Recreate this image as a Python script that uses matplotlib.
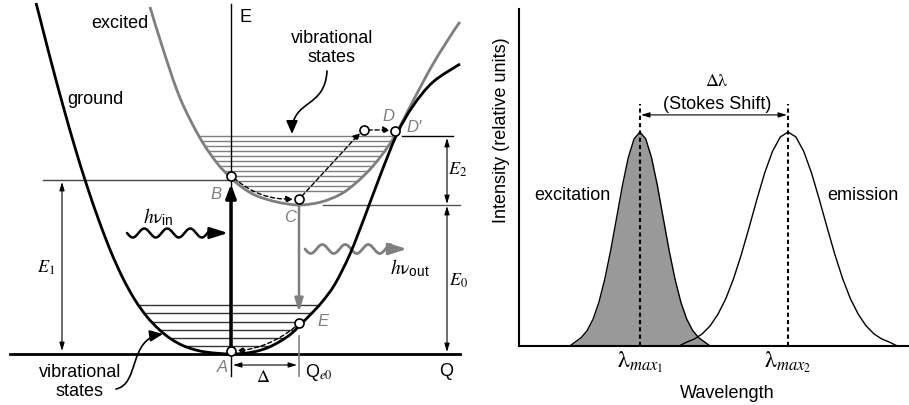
import numpy as np
import matplotlib
matplotlib.use('Agg')
import matplotlib.pyplot as plt
from matplotlib.patches import FancyArrowPatch, PathPatch
from matplotlib.path import Path

plt.rcParams['font.family'] = ['Liberation Sans', 'DejaVu Sans']
plt.rcParams['mathtext.fontset'] = 'stix'

GRAY = '#7f7f7f'

# ---------- left panel: configuration coordinate diagram (Q, E), origin at A ----------
ground_q = [-195, -192, -180, -168, -156, -144, -132, -120, -108, -96, -84, -72, -60, -48, -36, -24, -12, 0,
            12, 24, 36, 48, 60, 68, 80, 91, 104, 119, 134, 149, 166, 182, 202, 229]
ground_e = [351, 339.6, 292.8, 248.4, 206.4, 168, 133.2, 102, 75.6, 54, 37.2, 24.6, 15, 8.4, 4.2, 1.8, 0.6, 0,
            0.6, 2.4, 6, 12, 20, 28, 40, 52, 70, 100, 138, 178, 220, 248, 272, 290]

excited_q = [-81, -68, -51, -31, -14, 0, 12, 26, 46, 68, 90, 110, 126, 142, 156, 166, 182, 202, 222, 229]
excited_e = [347, 305, 256, 216, 191, 176, 166, 158, 152, 149, 152, 160, 172, 188, 206, 222, 253, 290, 322, 332]

ground_levels = [49, 41, 32, 24, 16, 8]
excited_levels = [218, 213, 208, 203, 198, 193, 188, 183, 178, 173, 168, 163]

# points A..E and D'
pts = {'A': (0, 3), 'B': (0, 178), 'C': (68, 155), 'D': (133, 224), "D'": (164, 223), 'E': (68, 31)}

E1_level = 174      # level of B
E_min_exc = 149     # bottom of excited state
E_D = 218           # level of D'
delta = 68          # Q_e0


def smooth_path(xs, ys):
    # Catmull-Rom through the points, drawn as cubic Bezier segments
    p = np.column_stack([xs, ys]).astype(float)
    p = np.vstack([p[0], p, p[-1]])
    verts = [p[1]]
    codes = [Path.MOVETO]
    for i in range(1, len(p) - 2):
        c1 = p[i] + (p[i + 1] - p[i - 1]) / 6
        c2 = p[i + 1] - (p[i + 2] - p[i]) / 6
        verts += [c1, c2, p[i + 1]]
        codes += [Path.CURVE4] * 3
    return Path(verts, codes)


def branch_x(qs, es, level, side):
    qs = np.asarray(qs, float)
    es = np.asarray(es, float)
    i0 = int(np.argmin(es))
    if side == 'left':
        return np.interp(level, es[:i0 + 1][::-1], qs[:i0 + 1][::-1])
    return np.interp(level, es[i0:], qs[i0:])


def wave(ax, q0, q1, e0, tip, color, lw):
    q = np.linspace(q0, q1, 300)
    ax.plot(q, e0 - 4.5 * np.sin(2 * np.pi * (q - q0) / 23), color=color, lw=lw, solid_capstyle='round')
    ax.annotate('', xy=(tip, e0), xytext=(q1 - 2, e0),
                arrowprops=dict(arrowstyle='-|>,head_length=1.1,head_width=0.35', color=color, lw=lw,
                                shrinkA=0, shrinkB=0))


def darrow(ax, p0, p1, lw=0.8, color='k'):
    ax.annotate('', xy=p1, xytext=p0,
                arrowprops=dict(arrowstyle='<|-|>,head_length=0.5,head_width=0.15', color=color, lw=lw,
                                shrinkA=0, shrinkB=0))


fig = plt.figure(figsize=(9.09, 4.06), dpi=100)
axL = fig.add_axes([0, 0, 1, 1])
axL.set_xlim(-231, 678)
axL.set_ylim(-51, 355)
axL.axis('off')

# vibrational levels
for lv in excited_levels:
    axL.plot([branch_x(excited_q, excited_e, lv, 'left'), branch_x(excited_q, excited_e, lv, 'right')],
             [lv, lv], color=GRAY, lw=1)
for lv in ground_levels:
    axL.plot([branch_x(ground_q, ground_e, lv, 'left'), branch_x(ground_q, ground_e, lv, 'right')],
             [lv, lv], color='#333333', lw=1)

# potential curves
axL.add_patch(PathPatch(smooth_path(excited_q, excited_e), fill=False, edgecolor=GRAY, lw=2, zorder=4))
axL.add_patch(PathPatch(smooth_path(ground_q, ground_e), fill=False, edgecolor='k', lw=2, zorder=4))

# axes of the diagram
axL.plot([-221, 229], [0, 0], color='k', lw=2)
axL.plot([0, 0], [350, -22], color='k', lw=1)
axL.plot([delta, delta], [18, -22], color=GRAY, lw=1.2)

# reference levels
axL.plot([-188, -1], [E1_level, E1_level], color='#444444', lw=1)
axL.plot([92, 229], [E_min_exc, E_min_exc], color='#555555', lw=1)
axL.plot([171, 222], [E_D, E_D], color='k', lw=1)

darrow(axL, (-169, 3), (-169, E1_level - 2))
darrow(axL, (216, E_D - 2), (216, E_min_exc + 1))
darrow(axL, (216, E_min_exc - 1), (216, 2))
darrow(axL, (2, -11), (66, -11))

# transitions
axL.annotate('', xy=(0, 170), xytext=(0, 3),
             arrowprops=dict(arrowstyle='-|>,head_length=0.8,head_width=0.3', color='k', lw=2.5,
                             shrinkA=0, shrinkB=0))
axL.annotate('', xy=(68, 42), xytext=(68, 151),
             arrowprops=dict(arrowstyle='-|>,head_length=0.8,head_width=0.25', color=GRAY, lw=1.8,
                             shrinkA=0, shrinkB=0))

dash = (0, (3, 2))
for p0, p1, rad in [((3, 176), (62, 155), 0.2), ((71, 158), (129, 221), 0.0),
                    ((137, 224), (159, 224), 0.0), ((64, 27), (6, 3), -0.15)]:
    axL.add_patch(FancyArrowPatch(p0, p1, arrowstyle='-|>,head_length=4,head_width=2',
                                  connectionstyle='arc3,rad=%s' % rad, linestyle=dash, lw=1,
                                  color='k', shrinkA=0, shrinkB=0, zorder=6))

wave(axL, -104, -20, 121, -3, 'k', 1.8)
wave(axL, 74, 160, 105, 176, GRAY, 2)

for name, (q, e) in pts.items():
    axL.plot(q, e, 'o', ms=6.5, mfc='white', mec='k', mew=1.2, zorder=10)

# curved pointers for "vibrational states"
for verts in [[(96, 283), (94, 245), (61, 255), (61, 220)],
              [(-115, -35), (-91, -30), (-103, 15), (-68, 20)]]:
    axL.add_patch(FancyArrowPatch(path=Path(verts, [Path.MOVETO, Path.CURVE4, Path.CURVE4, Path.CURVE4]),
                                  arrowstyle='-|>,head_length=8,head_width=3.5', color='k', lw=1.2,
                                  zorder=6))

# text
fs = 13
axL.text(-111, 331, 'excited', fontsize=fs, ha='center', va='center')
axL.text(-136, 255, 'ground', fontsize=fs, ha='center', va='center')
axL.text(9, 338, 'E', fontsize=fs, ha='left', va='center')
axL.text(101, 307, 'vibrational\nstates', fontsize=fs, ha='center', va='center', linespacing=1.15)
axL.text(-151, -27, 'vibrational\nstates', fontsize=fs, ha='center', va='center', linespacing=1.15)
axL.text(-185, 87, r'$E_1$', fontsize=fs, ha='center', va='center')
axL.text(227, 185, r'$E_2$', fontsize=fs, ha='center', va='center')
axL.text(227, 74, r'$E_0$', fontsize=fs, ha='center', va='center')
axL.text(-73, 138, r'$h\mathrm{\nu}_{\mathregular{in}}$', fontsize=14, ha='center', va='center')
axL.text(179, 87, r'$h\mathrm{\nu}_{\mathregular{out}}$', fontsize=14, ha='center', va='center')
axL.text(32, -23, r'$\Delta$', fontsize=fs, ha='center', va='center')
axL.text(74, -18, r'Q$_{\mathit{e0}}$', fontsize=fs, ha='left', va='center')
axL.text(215, -17, 'Q', fontsize=fs, ha='center', va='center')
for s, xy in [('A', (-9, -13)), ('B', (-15, 160)), ('C', (59, 137)), ('D', (157, 238)),
              ("D'", (183, 227)), ('E', (92, 33))]:
    axL.text(xy[0], xy[1], s, fontsize=12, style='italic', color=GRAY, ha='center', va='center')

# ---------- right panel: excitation / emission spectra ----------
exc_wl = [13.0, 14.5, 16.0, 17.5, 19.0, 20.5, 22.0, 23.5, 25.0, 26.5, 28.0, 29.5, 31.0,
          32.5, 34.0, 35.5, 37.0, 38.5, 40.0, 41.5, 43.0, 44.5, 46.0, 47.5, 49.0]
exc_int = [0.0, 0.020, 0.040, 0.073, 0.126, 0.205, 0.313, 0.446, 0.596, 0.748, 0.879, 0.968, 1.0,
           0.968, 0.879, 0.748, 0.596, 0.446, 0.313, 0.205, 0.126, 0.073, 0.040, 0.020, 0.0]
em_wl = [41, 43, 45, 47, 49, 51, 53, 55, 57, 59, 61, 63, 65, 67, 69,
         71, 73, 75, 77, 79, 81, 83, 85, 87, 89, 91, 93, 95, 97]
em_int = [0.0, 0.018, 0.033, 0.057, 0.094, 0.148, 0.220, 0.314, 0.427, 0.554, 0.685, 0.809, 0.910, 0.977, 1.0,
          0.977, 0.910, 0.809, 0.685, 0.554, 0.427, 0.314, 0.220, 0.148, 0.094, 0.057, 0.033, 0.018, 0.0]
peak_wl = [31.0, 69.0]
peak_labels = [r'$\mathrm{\lambda}_{\mathit{max}_{\mathit{1}}}$', r'$\mathrm{\lambda}_{\mathit{max}_{\mathit{2}}}$']

axR = fig.add_axes([519 / 909, 59 / 406, 390 / 909, 337 / 406])
axR.set_facecolor('none')
axR.set_xlim(0, 100)
axR.set_ylim(0, 1.575)
for sp in ['top', 'right']:
    axR.spines[sp].set_visible(False)
for sp in ['left', 'bottom']:
    axR.spines[sp].set_linewidth(1.5)

axR.fill_between(exc_wl, exc_int, color='#999999', lw=0)
axR.plot(exc_wl, exc_int, color='k', lw=1)
axR.plot(em_wl, em_int, color='k', lw=1)
for w in peak_wl:
    axR.plot([w, w], [0, 1.13], color='k', lw=1.5, linestyle=(0, (2, 1.5)))
axR.annotate('', xy=(peak_wl[1] - 0.3, 1.08), xytext=(peak_wl[0] + 0.3, 1.08),
             arrowprops=dict(arrowstyle='<|-|>,head_length=0.5,head_width=0.15', color='k', lw=0.8,
                             shrinkA=0, shrinkB=0))
axR.text(50.8, 1.24, r'$\Delta\mathrm{\lambda}$', fontsize=13, ha='center', va='center')
axR.text(50.8, 1.135, '(Stokes Shift)', fontsize=13, ha='center', va='center')
axR.text(13.8, 0.71, 'excitation', fontsize=13, ha='center', va='center')
axR.text(88.2, 0.71, 'emission', fontsize=13, ha='center', va='center')

axR.set_xticks(peak_wl, peak_labels)
axR.set_yticks([])
axR.tick_params(axis='x', length=0, pad=2, labelsize=17)
axR.set_xlabel('Wavelength', fontsize=13)
axR.xaxis.set_label_coords(0.533, -0.113)
axR.set_ylabel('Intensity (relative units)', fontsize=13)
axR.yaxis.label.set_va('center')
axR.yaxis.label.set_ha('center')
axR.yaxis.set_label_coords(-0.046, 0.644)

fig.savefig('out.png', dpi=100)
